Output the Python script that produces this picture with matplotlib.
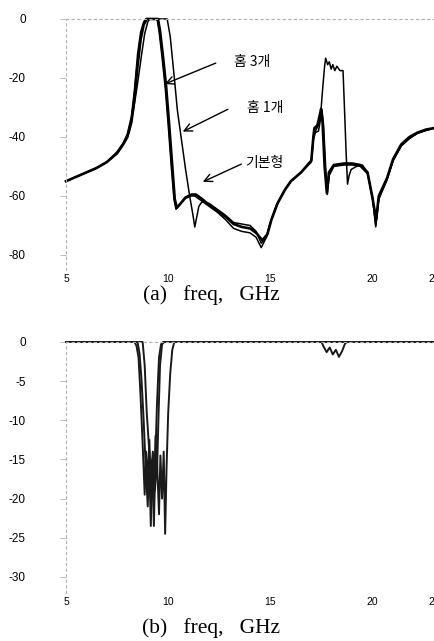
import numpy as np
import matplotlib.pyplot as plt

# (a) S21, dB
f_basic = [5.0, 5.5, 6.0, 6.5, 7.0, 7.5, 7.8, 8.0, 8.2, 8.35, 8.5, 8.65, 8.8, 8.9, 9.45,
           9.55, 9.7, 9.85, 10.0, 10.15, 10.28, 10.38, 10.5, 10.8, 11.1, 11.3, 11.6, 12.0,
           12.4, 12.8, 13.2, 13.6, 14.0, 14.3, 14.55, 14.8, 15.0, 15.3, 15.7, 16.0, 16.5,
           17.0, 17.1, 17.2, 17.35, 17.45, 17.55, 17.65, 17.7, 17.8, 17.88, 17.97, 18.05,
           18.15, 18.25, 18.4, 18.55, 18.62, 18.7, 18.77, 18.85, 18.95, 19.2, 19.5, 19.75,
           20.0, 20.15, 20.3, 20.7, 21.0, 21.4, 21.8, 22.2, 22.6, 23.0]
s21_basic = [-55, -53.5, -52, -50.5, -48.5, -45, -42, -39, -33, -24, -12, -4.5, -1, 0, 0,
             -4, -13, -23, -36, -50, -61, -64.5, -63.5, -61, -60, -60, -61.5, -63.5,
             -65.5, -68, -71, -72, -72.5, -74, -77.5, -74, -69, -63, -58, -55, -52,
             -48, -40, -38, -36, -33, -24, -16, -13.3, -15.5, -14.5, -17, -15.5,
             -17.5, -16, -17.5, -17.5, -30, -45, -56, -53, -51, -50, -49.5, -52,
             -61, -70.5, -61, -54.5, -48, -43, -40.5, -38.7, -37.8, -37]

f_3groove = [5.0, 5.5, 6.0, 6.5, 7.0, 7.5, 7.8, 8.0, 8.2, 8.35, 8.5, 8.65, 8.8, 8.95, 9.5,
             9.6, 9.75, 9.9, 10.05, 10.2, 10.32, 10.42, 10.55, 10.85, 11.15, 11.35, 11.65,
             12.0, 12.4, 12.8, 13.2, 13.6, 14.0, 14.3, 14.6, 14.85, 15.05, 15.35, 15.7, 16.0,
             16.5, 17.0, 17.1, 17.15, 17.3, 17.4, 17.48, 17.55, 17.65, 17.76, 17.86, 18.1,
             18.6, 19.0, 19.4, 19.75, 20.0, 20.17, 20.3, 20.7, 21.0, 21.4, 21.8, 22.2, 22.6, 23.0]
s21_3groove = [-55, -53.5, -52, -50.5, -48.5, -45.5, -42.5, -40, -35, -27, -16, -7, -2, 0, 0,
               -4, -13, -23, -36, -50, -61, -64, -63, -60.5, -59.5, -59.5, -61,
               -63, -65, -67, -69.5, -70.5, -71, -72.5, -75, -73, -68, -62.5, -58, -55,
               -52, -48, -40, -37, -36, -33, -30.5, -35, -50, -59, -52, -49.5,
               -49, -49, -49.5, -52, -61, -68, -60, -54, -47.5, -42.5, -40, -38.5, -37.5, -37]

f_1groove = [5.0, 5.5, 6.0, 6.5, 7.0, 7.5, 7.8, 8.0, 8.1, 8.3, 8.5, 8.7, 8.85, 9.0, 9.1, 9.95,
             10.1, 10.3, 10.45, 10.65, 10.85, 11.05, 11.2, 11.3, 11.4, 11.5, 11.65, 12.0,
             12.4, 12.8, 13.2, 13.6, 14.0, 14.3, 14.55, 14.8, 15.0, 15.3, 15.7, 16.0, 16.5,
             17.0, 17.1, 17.2, 17.35, 17.45, 17.52, 17.6, 17.7, 17.78, 17.88, 18.1,
             18.6, 19.0, 19.4, 19.75, 20.0, 20.15, 20.3, 20.7, 21.0, 21.4, 21.8, 22.2, 22.6, 23.0]
s21_1groove = [-55, -53.5, -52, -50.5, -48.5, -45.5, -42.5, -40, -38, -31, -22, -12, -5, -1, 0, 0,
               -6, -20, -31, -41, -51, -60, -66, -70.5, -67, -63.5, -62, -62.5,
               -64.5, -66.5, -69, -69.5, -70, -72, -76, -74, -69, -63, -58, -55, -52,
               -48.5, -41, -38.5, -38, -34, -31, -36, -50, -59.5, -53, -50,
               -49.5, -49.5, -50, -52.5, -61, -70, -61, -54.5, -48, -43, -40.5, -38.7, -37.8, -37]

# (b) S11, dB
f_r_basic = [5.0, 8.35, 8.45, 8.55, 8.65, 8.75, 8.85, 8.92, 9.0, 9.08, 9.15, 9.22, 9.3, 9.38,
             9.45, 9.55, 9.65, 9.75, 17.5, 17.6, 17.75, 17.9, 18.05, 18.2, 18.35, 18.5, 18.65,
             18.75, 23.0]
s11_basic = [0, 0, -0.5, -2, -7, -13, -19.5, -14, -18, -12.5, -20, -15, -23.5, -14,
             -8, -2, -0.3, 0, 0, -0.6, -1.3, -0.7, -1.6, -1.0, -1.9, -1.2, -0.2,
             0, 0]

f_r_3groove = [5.0, 8.5, 8.6, 8.7, 8.8, 8.9, 9.0, 9.07, 9.15, 9.22, 9.3, 9.38, 9.45, 9.52,
               9.6, 9.7, 9.8, 23.0]
s11_3groove = [0, 0, -1.5, -5, -10, -16, -21, -15, -23.5, -16, -21, -12, -17, -10,
               -3, -0.3, 0, 0]

f_r_1groove = [5.0, 8.75, 8.85, 8.95, 9.05, 9.15, 9.25, 9.35, 9.45, 9.55, 9.62, 9.7, 9.78,
               9.85, 9.92, 10.0, 10.1, 10.2, 10.3, 23.0]
s11_1groove = [0, 0, -3, -9, -13, -17, -14, -19, -15, -22, -14.5, -20, -14,
               -24.5, -16, -9, -4, -1, 0, 0]

xticks = [5, 10, 15, 20, 23]
xtick_labels = ['5', '10', '15', '20', '23']
yticks_a = [0, -20, -40, -60, -80]
yticks_b = [0, -5, -10, -15, -20, -25, -30]

tick_font = ['Liberation Sans Narrow', 'Liberation Sans', 'DejaVu Sans']
kr_font = ['Noto Sans CJK KR', 'DejaVu Sans']

fig = plt.figure(figsize=(4.34, 6.41), dpi=100)
ax1 = fig.add_axes([0.152, 0.5792, 0.848, 0.3912])
ax2 = fig.add_axes([0.152, 0.0755, 0.848, 0.391])


def style_axes(ax, yticks):
    for side in ['right', 'bottom']:
        ax.spines[side].set_visible(False)
    for side in ['left', 'top']:
        ax.spines[side].set_color('#b0b0b0')
        ax.spines[side].set_linestyle((0, (2, 3)))
        ax.spines[side].set_linewidth(0.8)
    ax.set_xticks(xticks)
    ax.set_xticklabels(xtick_labels, fontfamily=tick_font, fontsize=7.5)
    ax.set_yticks(yticks)
    ax.set_yticklabels([str(v) for v in yticks], fontfamily=tick_font, fontsize=8.5)
    ax.tick_params(axis='x', length=0, pad=3)
    ax.tick_params(axis='y', length=4, color='#b0b0b0', width=0.6, pad=25)
    ax.set_xlim(5, 23)


ax1.plot(f_basic, s21_basic, color='black', lw=1.1, clip_on=False)
ax1.plot(f_3groove, s21_3groove, color='black', lw=1.9, clip_on=False)
ax1.plot(f_1groove, s21_1groove, color='black', lw=1.1, clip_on=False)
ax1.set_ylim(-85, 0)
style_axes(ax1, yticks_a)

arrow = dict(arrowstyle='->', color='black', lw=1.0, mutation_scale=14)
ax1.annotate('', xy=(9.71, -22.4), xytext=(12.45, -14.6), arrowprops=arrow)
ax1.annotate('', xy=(10.59, -38.6), xytext=(13.04, -30.2), arrowprops=arrow)
ax1.annotate('', xy=(11.57, -55.6), xytext=(13.7, -48.8), arrowprops=arrow)
ax1.text(13.2, -14.6, '홈 3개', fontfamily=kr_font, fontsize=10, va='center')
ax1.text(13.85, -30.2, '홈 1개', fontfamily=kr_font, fontsize=10, va='center')
ax1.text(13.75, -48.8, '기본형', fontfamily=kr_font, fontsize=10, va='center')

ax2.plot(f_r_basic, s11_basic, color='#1a1a1a', lw=1.4, clip_on=False)
ax2.plot(f_r_3groove, s11_3groove, color='#1a1a1a', lw=1.4, clip_on=False)
ax2.plot(f_r_1groove, s11_1groove, color='#1a1a1a', lw=1.4, clip_on=False)
ax2.set_ylim(-32, 0)
style_axes(ax2, yticks_b)

fig.text(0.487, 1 - 295 / 641, '(a)   freq,   GHz', fontfamily='Liberation Serif',
         fontsize=15.5, ha='center', va='center')
fig.text(0.487, 1 - 628 / 641, '(b)   freq,   GHz', fontfamily='Liberation Serif',
         fontsize=15.5, ha='center', va='center')

fig.savefig('out.png', dpi=100)
